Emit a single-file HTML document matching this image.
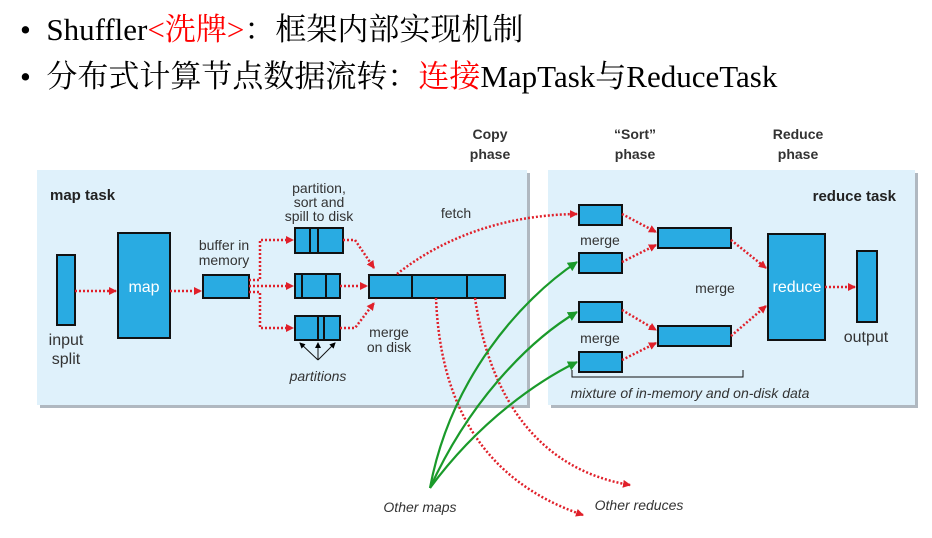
<!DOCTYPE html>
<html><head><meta charset="utf-8"><style>
body{margin:0;width:932px;height:538px;background:#fff;overflow:hidden;font-family:"Liberation Serif","Noto Serif CJK SC","Noto Sans CJK SC",serif}
.l{position:absolute;left:20px;font-size:31px;color:#000;white-space:nowrap;line-height:36px}
.r{color:#f00}
</style></head><body>
<div class="l" style="top:12px">•&nbsp;&nbsp;Shuffler<span class="r">&lt;洗牌&gt;</span>：框架内部实现机制</div>
<div class="l" style="top:59px">•&nbsp;&nbsp;分布式计算节点数据流转：<span class="r">连接</span>MapTask与ReduceTask</div>
<svg width="932" height="538" style="position:absolute;left:0;top:0" font-family="Liberation Sans, sans-serif">
<defs>
<marker id="ra" markerWidth="8" markerHeight="8" refX="7" refY="4" orient="auto" markerUnits="userSpaceOnUse"><path d="M0,0L8,4L0,8z" fill="#e0202a"/></marker>
<marker id="ga" markerWidth="10" markerHeight="10" refX="9" refY="5" orient="auto" markerUnits="userSpaceOnUse"><path d="M0,0L10,5L0,10z" fill="#1a9a2a"/></marker>
<marker id="ka" markerWidth="6" markerHeight="6" refX="5" refY="3" orient="auto" markerUnits="userSpaceOnUse"><path d="M0,0L6,3L0,6z" fill="#000"/></marker>
</defs>
<rect x="40" y="173" width="490" height="235" fill="#b0b8c0"/>
<rect x="37" y="170" width="490" height="235" fill="#dff1fb"/>
<rect x="551" y="173" width="367" height="235" fill="#b0b8c0"/>
<rect x="548" y="170" width="367" height="235" fill="#dff1fb"/>
<g font-weight="bold" font-size="15" fill="#222">
<text x="50" y="200">map task</text>
<text x="896" y="201" text-anchor="end">reduce task</text>
</g>
<g font-size="14" fill="#333" text-anchor="middle">
<g font-weight="bold" fill="#333">
<text x="490" y="139">Copy</text><text x="490" y="159">phase</text>
<text x="635" y="139">“Sort”</text><text x="635" y="159">phase</text>
<text x="798" y="139">Reduce</text><text x="798" y="159">phase</text>
</g>
<text x="319" y="193">partition,</text><text x="319" y="207">sort and</text><text x="319" y="221">spill to disk</text>
<text x="224" y="250">buffer in</text><text x="224" y="265">memory</text>
<text x="456" y="218">fetch</text>
<text x="389" y="337">merge</text><text x="389" y="352">on disk</text>
<text x="66" y="345" font-size="16">input</text><text x="66" y="364" font-size="16">split</text>
<text x="600" y="245">merge</text><text x="600" y="343">merge</text>
<text x="715" y="293">merge</text>
<text x="866" y="342" font-size="16">output</text>
<text x="318" y="381" font-style="italic">partitions</text>
<text x="690" y="398" font-style="italic">mixture of in-memory and on-disk data</text>
<text x="420" y="512" font-style="italic">Other maps</text>
<text x="639" y="510" font-style="italic">Other reduces</text>
</g>
<g fill="#29abe2" stroke="#111" stroke-width="2">
<rect x="57" y="255" width="18" height="70"/>
<rect x="118" y="233" width="52" height="105"/>
<rect x="203" y="275" width="46" height="23"/>
<rect x="295" y="228" width="48" height="25"/><rect x="295" y="274" width="45" height="24"/><rect x="295" y="316" width="45" height="24"/>
<rect x="369" y="275" width="136" height="23"/>
<rect x="579" y="205" width="43" height="20"/><rect x="579" y="253" width="43" height="20"/>
<rect x="579" y="302" width="43" height="20"/><rect x="579" y="352" width="43" height="20"/>
<rect x="658" y="228" width="73" height="20"/><rect x="658" y="326" width="73" height="20"/>
<rect x="768" y="234" width="57" height="106"/>
<rect x="857" y="251" width="20" height="71"/>
</g>
<g stroke="#111" stroke-width="2">
<line x1="310" y1="228" x2="310" y2="253"/><line x1="318" y1="228" x2="318" y2="253"/>
<line x1="302" y1="274" x2="302" y2="298"/><line x1="326" y1="274" x2="326" y2="298"/>
<line x1="318" y1="316" x2="318" y2="340"/><line x1="324" y1="316" x2="324" y2="340"/>
<line x1="412" y1="275" x2="412" y2="298"/><line x1="467" y1="275" x2="467" y2="298"/>
</g>
<g fill="#fff" font-size="16" text-anchor="middle"><text x="144" y="292">map</text><text x="797" y="292">reduce</text></g>
<g stroke="#111" stroke-width="1" fill="none">
<path d="M572,370V377H743V370"/>
<line x1="318" y1="360" x2="300" y2="343" marker-end="url(#ka)"/><line x1="318" y1="360" x2="318" y2="343" marker-end="url(#ka)"/><line x1="318" y1="360" x2="335" y2="343" marker-end="url(#ka)"/>
</g>
<g stroke="#e0202a" stroke-width="2.5" stroke-dasharray="2,2" fill="none" marker-end="url(#ra)">
<line x1="75" y1="291" x2="116" y2="291"/>
<line x1="170" y1="291" x2="201" y2="291"/>
<path d="M249,280H260V240H293"/>
<line x1="249" y1="286" x2="293" y2="286"/>
<path d="M249,292H260V328H293"/>
<path d="M343,240H355L374,268"/>
<line x1="340" y1="286" x2="367" y2="286"/>
<path d="M340,328H355L374,303"/>
<path d="M397,274C440,240 500,215 577,214"/>
<line x1="622" y1="214" x2="656" y2="232"/>
<line x1="622" y1="262" x2="656" y2="245"/>
<line x1="622" y1="310" x2="656" y2="330"/>
<line x1="622" y1="360" x2="656" y2="343"/>
<line x1="731" y1="240" x2="766" y2="268"/>
<line x1="731" y1="336" x2="766" y2="306"/>
<line x1="825" y1="287" x2="855" y2="287"/>
<path d="M436,298C440,400 480,480 583,515"/>
<path d="M475,298C490,400 540,470 630,485"/>
</g>
<g stroke="#1a9a2a" stroke-width="2.2" fill="none" marker-end="url(#ga)">
<path d="M430,488C450,380 520,300 577,262"/>
<path d="M430,488C470,400 530,340 577,312"/>
<path d="M430,488C480,420 540,380 577,362"/>
</g>
</svg>
</body></html>
